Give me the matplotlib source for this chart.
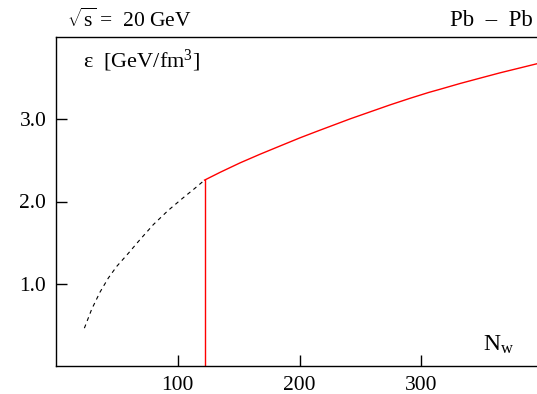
import matplotlib
matplotlib.use("Agg")
import matplotlib.pyplot as plt

plt.rcParams['font.family'] = ['Liberation Serif', 'DejaVu Serif']
plt.rcParams['mathtext.fontset'] = 'custom'
plt.rcParams['mathtext.rm'] = 'Liberation Serif'
plt.rcParams['mathtext.it'] = 'Liberation Serif:italic'

# dashed (extrapolated) part
n_dash = [23.3, 29.3, 36.2, 43, 49.8, 59.4, 68, 80, 92, 104, 114, 122]
e_dash = [0.46, 0.69, 0.90, 1.07, 1.21, 1.37, 1.52, 1.72, 1.89, 2.04, 2.16, 2.26]
# red solid part
n_red = [122, 134.8, 151.2, 167.6, 184, 200.5, 215.5, 241.6, 258, 274.4,
         290.8, 305.9, 315.5, 331.9, 348.3, 364.8, 381.3, 395]
e_red = [2.26, 2.355, 2.47, 2.575, 2.675, 2.775, 2.86, 3.005, 3.09, 3.175,
         3.255, 3.325, 3.365, 3.435, 3.50, 3.565, 3.625, 3.675]
# vertical cut
n_cut = 122

xticks = [100, 200, 300]
yticks = [1.0, 2.0, 3.0]

fig = plt.figure(figsize=(5.37, 3.94), dpi=100)
ax = fig.add_axes([56/537, 1-366/394, 1-56/537, (366-37)/394])

ax.plot(n_dash, e_dash, color='black', linestyle=(0, (3.5, 3.5)), linewidth=0.8)
ax.plot(n_red, e_red, color='red', linewidth=1.0)
ax.plot([n_cut, n_cut], [0, e_red[0]], color='red', linewidth=1.0)

ax.set_xlim(0, 395)
ax.set_ylim(0, 4.0)
ax.set_xticks(xticks)
ax.set_xticklabels([str(t) for t in xticks])
ax.set_yticks(yticks)
ax.set_yticklabels([f"{t:.1f}" for t in yticks])
ax.tick_params(direction='in', length=8, width=1, labelsize=15.5, pad=7)
ax.spines['right'].set_visible(False)
for s in ['left', 'bottom', 'top']:
    ax.spines[s].set_linewidth(1.0)

fig.text(83/537, 1-61/394, r"ε  [GeV/fm$^{3}$]", fontsize=16, va='center', ha='left')
fig.text(483/537, 1-345/394, r"N$_\mathrm{w}$", fontsize=17, va='center', ha='left')
fig.text(67/537, 1-20/394, r"$\sqrt{\mathrm{s}}$ =  20 GeV", fontsize=15.5,
         va='center', ha='left')
fig.text(450/537, 1-20/394, "Pb  –  Pb", fontsize=16.5, va='center', ha='left')

fig.savefig("out.png", dpi=100)
